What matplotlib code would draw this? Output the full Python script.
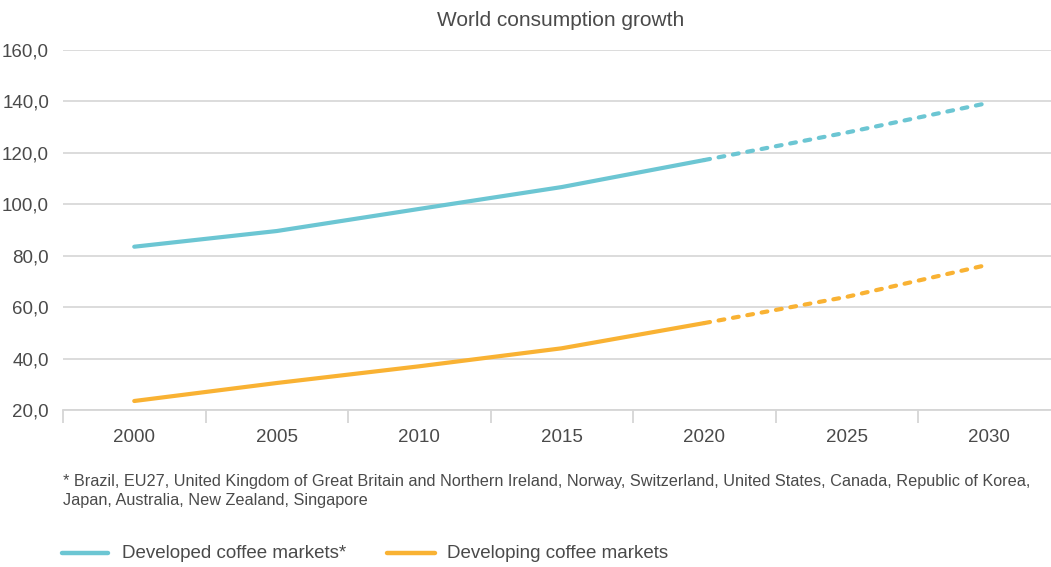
import matplotlib
matplotlib.use("Agg")
import matplotlib.pyplot as plt
from matplotlib.lines import Line2D

plt.rcParams['font.family'] = ['Liberation Sans', 'DejaVu Sans']

years = ["2000", "2005", "2010", "2015", "2020", "2025", "2030"]
developed = [83.5, 89.6, 98.2, 106.7, 117.2, 127.9, 139.5]
developing = [23.5, 30.5, 37.0, 44.0, 53.8, 64.0, 76.6]
split_index = 4  # last actual value (2020); later values are projections

title = "World consumption growth"
footnote = ("* Brazil, EU27, United Kingdom of Great Britain and Northern Ireland, Norway, Switzerland, "
            "United States, Canada, Republic of Korea,\nJapan, Australia, New Zealand, Singapore")
legend_labels = ["Developed coffee markets*", "Developing coffee markets"]

blue = "#6CC6D3"
orange = "#F9B233"
text_col = "#4a4a4a"
grid_col = "#d6d6d6"

W, H = 1051, 567
fig = plt.figure(figsize=(W / 100, H / 100), dpi=100)
ax = fig.add_axes([63 / W, 1 - 410 / H, 1 - 63 / W, (410 - 50) / H])

x = list(range(len(years)))
band = 142.5
xmax = (W - 63) / band - 0.5

for vals, col in [(developed, blue), (developing, orange)]:
    ax.plot(x[:split_index + 1], vals[:split_index + 1], color=col, lw=3,
            solid_capstyle='round', zorder=3)
    ax.plot(x[split_index:], vals[split_index:], color=col, lw=3,
            dashes=(1.4, 2.1), dash_capstyle='round', zorder=3)

ax.set_yticks(range(20, 161, 20))
ax.set_yticklabels([f"{v},0" for v in range(20, 161, 20)])
ax.set_xticks(x)
ax.set_xticklabels(years)
ax.set_xticks([i - 0.5 for i in range(len(years))], minor=True)
ax.set_xlim(-0.5, xmax)
ax.set_ylim(20, 160)
ax.tick_params(axis='x', which='major', length=0, pad=14, labelsize=13.5, labelcolor=text_col)
ax.tick_params(axis='x', which='minor', length=9, width=1.3, color=grid_col)
ax.tick_params(axis='y', length=0, pad=10, labelsize=13.5, labelcolor=text_col)

ax.grid(axis='y', color=grid_col, lw=1.2)
ax.set_axisbelow(True)
for s in ['top', 'right', 'left']:
    ax.spines[s].set_visible(False)
ax.spines['bottom'].set_color(grid_col)
ax.spines['bottom'].set_linewidth(1.3)

fig.text(561 / W, 1 - 20 / H, title, ha='center', va='center', fontsize=15, color=text_col)
fig.text(63 / W, 1 - 474 / H, footnote, ha='left', va='top', fontsize=11.7, color=text_col,
         linespacing=1.3)

# legend
ly = 1 - 553 / H
for (x0, x1, tx), col, lab in [((62, 108, 122), blue, legend_labels[0]),
                               ((387, 435, 447), orange, legend_labels[1])]:
    fig.add_artist(Line2D([x0 / W, x1 / W], [ly, ly], color=col, lw=3.2,
                          solid_capstyle='round', transform=fig.transFigure))
    fig.text(tx / W, ly, lab, ha='left', va='center', fontsize=13.5, color=text_col)

fig.savefig("out.png", dpi=100)
